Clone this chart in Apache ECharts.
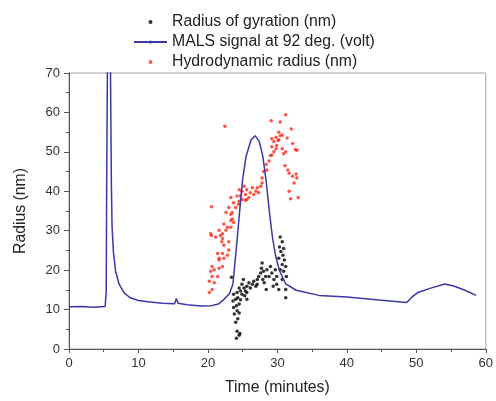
<!DOCTYPE html>
<html>
<head>
<meta charset="utf-8">
<script src="https://cdn.jsdelivr.net/npm/echarts@6/dist/echarts.min.js"></script>
<style>
html,body{margin:0;padding:0;background:#fff;}
#chart{width:496px;height:401px;}
</style>
</head>
<body>
<div id="chart"></div>
<script>
// Tick values
const xTicks = [0, 10, 20, 30, 40, 50, 60];
const yTicks = [0, 10, 20, 30, 40, 50, 60, 70];

// Series names
const seriesNames = ['Radius of gyration (nm)', 'MALS signal at 92 deg. (volt)', 'Hydrodynamic radius (nm)'];

// Radius of gyration: [time (min), radius (nm)]
const radiusOfGyration = [
  [24.1,2.7],[24.5,3.5],[24.2,4.5],[24.6,3.9],[24.0,6.8],[24.3,7.7],[23.8,8.9],[24.2,9.7],[24.5,9.1],
  [23.7,10.5],[24.1,11.0],[24.5,11.4],[23.6,12.2],[24.0,12.6],[24.3,13.0],[24.7,12.5],[23.7,13.9],
  [24.2,14.3],[24.7,14.7],[24.9,13.9],[24.5,15.5],[24.9,16.4],[25.2,15.5],[25.4,14.7],[25.1,17.6],
  [25.6,15.9],[25.9,16.8],[26.1,15.5],[26.4,16.4],[25.6,14.3],[25.3,13.5],[25.6,12.6],[26.6,17.2],
  [26.9,15.9],[27.1,17.6],[27.3,18.4],[27.1,16.4],[27.6,19.3],[27.7,20.5],[27.8,21.8],[27.9,17.6],
  [28.0,19.7],[28.3,18.4],[28.1,16.8],[28.4,15.1],[28.5,20.1],[28.8,18.4],[29.0,20.9],[29.2,19.3],
  [29.5,17.6],[29.7,20.1],[29.4,15.9],[29.9,18.4],[29.9,16.4],[30.2,15.1],[30.2,23.0],[30.3,25.9],
  [30.4,28.4],[30.7,27.2],[30.5,24.7],[30.9,25.5],[30.8,23.8],[31.0,22.6],[30.7,21.4],[31.2,20.9],
  [30.9,19.7],[30.4,20.1],[31.2,15.1],[31.2,13.0],[30.7,17.6],[31.3,18.4],[23.4,18.2]
];

// MALS signal (plotted on the radius scale): [time (min), signal]
const malsSignal = [
  [0,10.7],[2,10.8],[3.5,10.6],[5.2,10.8],[5.33,11.0],[5.36,14.5],[5.42,41],[5.5,41],[5.55,76],
  [5.95,76],[6.02,60],[6.1,42],[6.2,31],[6.4,24.5],[6.7,19.8],[7.2,16.5],[7.9,14.3],[8.8,13.0],
  [10,12.3],[11.6,11.9],[13.5,11.6],[15.2,11.5],[15.45,12.8],[15.7,11.6],[17,11.2],[19,10.9],
  [20.5,11.0],[21.5,11.4],[22.2,12.4],[23.1,14.0],[23.6,16.5],[24.1,25.7],[24.6,35.6],[25.0,43.1],
  [25.5,48.9],[26.2,53.0],[26.8,54.1],[27.4,52.6],[27.9,48.9],[28.4,42.3],[28.9,34.0],[29.3,28.2],
  [29.8,23.2],[30.3,19.9],[31.2,16.5],[32.7,14.9],[36,13.6],[40,13.2],[44.6,12.4],[48.6,11.8],
  [49.4,13.2],[50.3,14.4],[52.2,15.5],[54.1,16.5],[55.5,15.9],[57,14.9],[58.6,13.6]
];

// Hydrodynamic radius: [time (min), radius (nm)]
const hydrodynamicRadius = [
  [22.45,56.5],[20.5,36.1],[20.2,14.3],[20.6,15.1],[20.2,17.2],[20.9,16.8],[20.6,18.4],[20.9,20.1],
  [20.4,19.7],[21.4,18.4],[21.6,20.5],[22.1,20.9],[20.6,20.9],[21.6,22.6],[21.6,23.0],[22.3,23.0],
  [22.8,23.8],[22.1,24.2],[21.4,24.2],[23.0,25.1],[22.3,26.3],[22.0,27.2],[23.0,27.2],[22.1,28.0],
  [21.1,28.4],[20.5,28.8],[21.8,28.8],[20.4,29.2],[22.1,29.2],[21.6,30.1],[22.6,30.1],[22.8,30.9],
  [23.3,30.9],[22.3,31.7],[23.7,32.1],[23.3,32.6],[23.5,33.0],[23.3,34.2],[22.6,34.6],[23.5,34.6],
  [23.0,35.9],[24.0,35.9],[23.7,37.1],[23.3,38.4],[24.4,36.7],[24.2,38.8],[24.5,37.5],[24.9,37.9],
  [25.4,37.7],[24.5,40.4],[24.9,40.0],[25.2,41.3],[25.4,39.2],[25.6,40.4],[25.9,38.4],[26.1,39.6],
  [26.4,40.9],[26.6,39.2],[26.9,40.0],[27.1,40.9],[27.3,39.6],[27.6,41.3],[27.8,42.1],[24.7,38.8],
  [25.6,37.9],[27.8,43.4],[28.0,45.0],[28.4,46.8],[28.5,45.4],[28.8,47.7],[29.0,49.1],[29.2,49.2],
  [29.5,50.0],[29.8,50.8],[29.5,52.6],[29.9,51.6],[30.1,52.9],[29.8,53.7],[29.2,53.3],[29.2,51.3],
  [30.2,55.0],[30.4,54.1],[30.7,50.8],[30.9,49.5],[29.1,57.9],[30.4,57.6],[31.2,59.4],[32.0,55.8],
  [31.4,53.5],[32.2,52.1],[32.6,50.6],[32.8,50.4],[31.1,46.5],[31.5,45.4],[31.7,44.6],[32.2,43.8],
  [32.7,44.4],[32.8,43.4],[32.4,42.1],[31.7,40.0],[31.9,38.1],[33.0,38.4],[30.2,53.1],[31.2,50.0],
  [30.7,54.3]
];

const chart = echarts.init(document.getElementById('chart'), null, {renderer: 'canvas'});
const FONT = 'Liberation Sans, Arial, sans-serif';

chart.setOption({
  animation: false,
  backgroundColor: '#ffffff',
  legend: {
    orient: 'vertical',
    left: 128,
    top: 7,
    itemWidth: 33,
    itemHeight: 4,
    itemGap: 0,
    textStyle: {fontFamily: FONT, fontSize: 15.8, lineHeight: 20, color: '#222'},
    data: [
      {name: seriesNames[0]},
      {name: seriesNames[1]},
      {name: seriesNames[2]}
    ]
  },
  grid: {
    left: 69, right: 8, top: 73, bottom: 47,
    show: true, borderColor: '#a0a0a0', borderWidth: 1
  },
  xAxis: {
    type: 'value',
    min: xTicks[0], max: xTicks[xTicks.length - 1], interval: 10,
    name: 'Time (minutes)', nameLocation: 'middle', nameGap: 31,
    nameTextStyle: {fontFamily: FONT, fontSize: 15.8, color: '#222'},
    axisLine: {show: true, lineStyle: {color: '#555', width: 1}},
    axisTick: {show: true, length: 4, lineStyle: {color: '#555'}},
    minorTick: {show: true, splitNumber: 2, length: 3, lineStyle: {color: '#555'}},
    splitLine: {show: false},
    axisLabel: {fontFamily: FONT, fontSize: 13, color: '#333', margin: 8}
  },
  yAxis: {
    type: 'value',
    min: yTicks[0], max: yTicks[yTicks.length - 1], interval: 10,
    name: 'Radius (nm)', nameLocation: 'middle', nameGap: 40, nameRotate: 90,
    nameTextStyle: {fontFamily: FONT, fontSize: 15.8, color: '#222'},
    axisLine: {show: true, lineStyle: {color: '#555', width: 1}},
    axisTick: {show: true, length: 5, lineStyle: {color: '#555'}},
    minorTick: {show: true, splitNumber: 2, length: 3, lineStyle: {color: '#555'}},
    splitLine: {show: false},
    axisLabel: {fontFamily: FONT, fontSize: 13, color: '#333', margin: 9}
  },
  series: [
    {
      name: seriesNames[0],
      type: 'scatter',
      data: radiusOfGyration,
      symbol: 'circle',
      symbolSize: 3.5,
      itemStyle: {color: '#000000'},
      z: 3
    },
    {
      name: seriesNames[1],
      type: 'line',
      data: malsSignal,
      symbol: 'none',
      showSymbol: false,
      clip: true,
      lineStyle: {color: '#3b37a6', width: 1.5},
      itemStyle: {color: '#3b37a6'},
      z: 4
    },
    {
      name: seriesNames[2],
      type: 'scatter',
      data: hydrodynamicRadius,
      symbol: 'circle',
      symbolSize: 3.5,
      itemStyle: {color: '#ff2a1a'},
      z: 2
    }
  ]
});
</script>
</body>
</html>
